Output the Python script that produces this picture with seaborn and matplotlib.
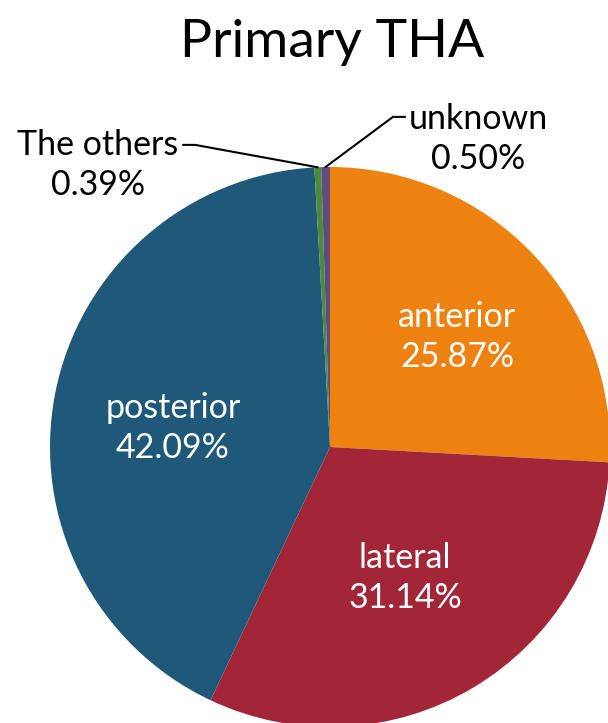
import matplotlib
matplotlib.use("Agg")
import matplotlib.pyplot as plt
import seaborn as sns

sns.set_theme(style="white")
plt.rcParams['font.family'] = ['Lato', 'DejaVu Sans']

categories = ["anterior", "lateral", "posterior", "The others", "unknown"]
values = [25.87, 31.14, 42.09, 0.39, 0.50]
colors = ["#EE8210", "#A22638", "#1F5878", "#4A8B3E", "#5F4B7E"]
title = "Primary THA"

fig = plt.figure(figsize=(6.08, 7.23), dpi=100)
fig.patch.set_facecolor("white")
ax = fig.add_axes([50/608, -4/723, 560/608, 560/723])
ax.pie(values, colors=colors, startangle=90, counterclock=False,
       radius=1, wedgeprops=dict(linewidth=0))
ax.set_xlim(-1, 1)
ax.set_ylim(-1, 1)
ax.set_aspect("equal")
ax.axis("off")

def lab(i):
    return f"{categories[i]}\n{values[i]:.2f}%"

fs = 24.5
kw = dict(ha="center", va="center", fontsize=fs, linespacing=1.3)
ax.text(0.454, 0.393, lab(0), color="white", **kw)
ax.text(0.268, -0.468, lab(1), color="white", **kw)
ax.text(-0.561, 0.068, lab(2), color="white", **kw)
ax.text(-0.829, 1.007, lab(3), color="black", clip_on=False, **kw)
ax.text(0.529, 1.100, lab(4), color="black", clip_on=False, **kw)

ax.plot([-0.525, -0.482, -0.044], [1.079, 1.079, 0.999], color="black", lw=1.5, clip_on=False)
ax.plot([-0.016, 0.225, 0.268], [1.0, 1.179, 1.179], color="black", lw=1.5, clip_on=False)

fig.text(332/608, 1 - 42/723, title, ha="center", va="center", fontsize=38.5, color="black")

fig.savefig("out.png", dpi=100)
